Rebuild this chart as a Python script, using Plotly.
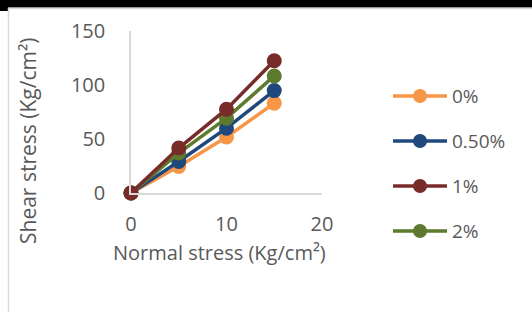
import plotly.graph_objects as go

normal_stress = [0, 5, 10, 15]
series_names = ["0%", "0.50%", "1%", "2%"]
shear_0 = [0, 24.6, 51.8, 83.2]
shear_050 = [0, 29.2, 60.0, 94.8]
shear_1 = [0, 41.6, 77.6, 122.5]
shear_2 = [0, 37.0, 69.3, 108.4]
series_values = [shear_0, shear_050, shear_1, shear_2]
colors = ["#F79646", "#1F497D", "#772C2A", "#5E7A2E"]
x_ticks = [0, 10, 20]
y_ticks = [0, 50, 100, 150]

W, H = 532, 312
L, R, T, B = 131, 322, 31, 193
FONT = "Open Sans"
GREY = "#595959"

fig = go.Figure()
draw_order = [0, 1, 3, 2]
for i in draw_order:
    fig.add_trace(go.Scatter(
        x=normal_stress, y=series_values[i], name=series_names[i],
        mode="lines+markers",
        line=dict(color=colors[i], width=3.5),
        marker=dict(color=colors[i], size=15),
        showlegend=False, cliponaxis=False,
    ))

def px(xp):
    return (xp - L) / (R - L)

def py(yp):
    return (B - yp) / (B - T)

shapes = []
annotations = []
# top black band and light border
shapes.append(dict(type="rect", xref="paper", yref="paper", x0=px(0), x1=px(W), y0=py(0), y1=py(7.5),
                   fillcolor="black", line_width=0, layer="above"))
shapes.append(dict(type="rect", xref="paper", yref="paper", x0=px(0), x1=px(8), y0=py(7), y1=py(11),
                   fillcolor="black", line_width=0, layer="above"))
shapes.append(dict(type="line", xref="paper", yref="paper", x0=px(8), x1=px(W), y0=py(8.5), y1=py(8.5),
                   line=dict(color="#D9D9D9", width=1.5)))
shapes.append(dict(type="line", xref="paper", yref="paper", x0=px(8.5), x1=px(8.5), y0=py(8), y1=py(H),
                   line=dict(color="#D9D9D9", width=1.5)))

# axis titles
annotations.append(dict(xref="paper", yref="paper", x=px(219), y=py(253), text="Normal stress (Kg/cm²)",
                        showarrow=False, xanchor="center", yanchor="middle",
                        font=dict(family=FONT, size=20, color=GREY)))
annotations.append(dict(xref="paper", yref="paper", x=px(28), y=py(141), text="Shear stress (Kg/cm²)",
                        showarrow=False, xanchor="center", yanchor="middle", textangle=-90,
                        font=dict(family=FONT, size=21, color=GREY)))

# custom legend
leg_y = [96, 141, 186, 231]
for i, name in enumerate(series_names):
    yy = py(leg_y[i])
    shapes.append(dict(type="line", xref="paper", yref="paper", x0=px(393), x1=px(447), y0=yy, y1=yy,
                       line=dict(color=colors[i], width=3.5)))
    shapes.append(dict(type="circle", xref="paper", yref="paper", xsizemode="pixel", ysizemode="pixel",
                       xanchor=px(420), yanchor=yy, x0=-7, x1=7, y0=-7, y1=7,
                       fillcolor=colors[i], line_width=0))
    annotations.append(dict(xref="paper", yref="paper", x=px(450), y=yy, text=name, showarrow=False,
                            xanchor="left", yanchor="middle", font=dict(family=FONT, size=19, color=GREY)))

fig.update_layout(
    width=W, height=H,
    margin=dict(l=L, r=W - R, t=T, b=H - B),
    paper_bgcolor="white", plot_bgcolor="white",
    showlegend=False,
    shapes=shapes, annotations=annotations,
    font=dict(family=FONT, size=20, color=GREY),
    xaxis=dict(range=[0, 20], tickvals=x_ticks, showgrid=False, zeroline=False,
               showline=True, linecolor="#D9D9D9", linewidth=1.5, ticks="",
               ticklabelstandoff=12, automargin=False,
               tickfont=dict(size=20, color=GREY)),
    yaxis=dict(range=[0, 150], tickvals=y_ticks, showgrid=False, zeroline=False,
               showline=True, linecolor="#D9D9D9", linewidth=1.5, ticks="",
               ticklabelstandoff=20, automargin=False,
               tickfont=dict(size=20, color=GREY)),
)

fig.write_html("out.html", config={"displayModeBar": False},
               post_script="document.body.style.margin='0';document.body.style.overflow='hidden';")
